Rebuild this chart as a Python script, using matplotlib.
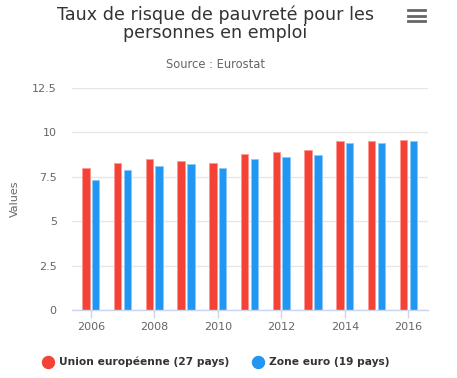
import matplotlib
matplotlib.use("Agg")
import matplotlib.pyplot as plt
from matplotlib.lines import Line2D
import numpy as np

years = [2006, 2007, 2008, 2009, 2010, 2011, 2012, 2013, 2014, 2015, 2016]
ue27 = [8.0, 8.3, 8.5, 8.4, 8.3, 8.8, 8.9, 9.0, 9.5, 9.5, 9.6]
zone_euro = [7.3, 7.9, 8.1, 8.2, 8.0, 8.5, 8.6, 8.7, 9.4, 9.4, 9.5]
series_names = ["Union européenne (27 pays)", "Zone euro (19 pays)"]
yticks = [0, 2.5, 5, 7.5, 10, 12.5]
ytick_labels = ["0", "2.5", "5", "7.5", "10", "12.5"]
xticks = [2006, 2008, 2010, 2012, 2014, 2016]

RED = "#F44336"
BLUE = "#2196F3"

W, H = 457, 378
fig = plt.figure(figsize=(W / 100, H / 100), dpi=100)
fig.patch.set_facecolor("white")
ax = fig.add_axes([72 / W, 1 - 310 / H, (428 - 72) / W, (310 - 88) / H])

x = np.array(years, dtype=float)
bw = 0.235
off = 0.155
ax.bar(x - off, ue27, width=bw, color=RED, edgecolor="#ff9a92", linewidth=0.6, zorder=3)
ax.bar(x + off, zone_euro, width=bw, color=BLUE, edgecolor="#8cc8f8", linewidth=0.6, zorder=3)

ax.set_xlim(2005.41, 2016.62)
ax.set_ylim(0, 12.5)
ax.set_yticks(yticks)
ax.set_yticklabels(ytick_labels)
ax.set_xticks(xticks)
ax.set_xticklabels([str(y) for y in xticks])

ax.grid(axis="y", color="#e6e6e6", linewidth=1, zorder=0)
ax.grid(axis="x", visible=False)
for s in ["top", "right", "left"]:
    ax.spines[s].set_visible(False)
ax.spines["bottom"].set_color("#ccd6eb")
ax.spines["bottom"].set_linewidth(1)
ax.spines["bottom"].set_zorder(4)

ax.tick_params(axis="y", length=0, pad=11, labelsize=8, labelcolor="#666666")
ax.tick_params(axis="x", length=6, width=1, color="#ccd6eb", pad=2.5,
               labelsize=8, labelcolor="#666666")

fig.text(15 / W, 1 - 199 / H, "Values", rotation=90, ha="center", va="center",
         fontsize=8, color="#666666")

fig.text(215.5 / W, 1 - 5 / H, "Taux de risque de pauvreté pour les\npersonnes en emploi",
         ha="center", va="top", fontsize=12.6, color="#333333", linespacing=1.05)
fig.text(215.5 / W, 1 - 64 / H, "Source : Eurostat", ha="center", va="center",
         fontsize=8.3, color="#666666")

# menu icon
for yy in [10, 15.5, 21]:
    fig.add_artist(Line2D([408 / W, 425 / W], [1 - yy / H, 1 - yy / H],
                          color="#666666", linewidth=2, transform=fig.transFigure))

handles = [Line2D([], [], marker="o", linestyle="none", markersize=8.6,
                  markerfacecolor=c, markeredgecolor=c) for c in (RED, BLUE)]
leg = fig.legend(handles, series_names, loc="center", ncol=2,
                 bbox_to_anchor=(216 / W, 1 - 362 / H), frameon=False,
                 handletextpad=0.5, columnspacing=2.2, handlelength=1.0,
                 prop={"size": 7.7, "weight": "bold"})
for t in leg.get_texts():
    t.set_color("#333333")

fig.savefig("out.png", dpi=100, facecolor="white")
